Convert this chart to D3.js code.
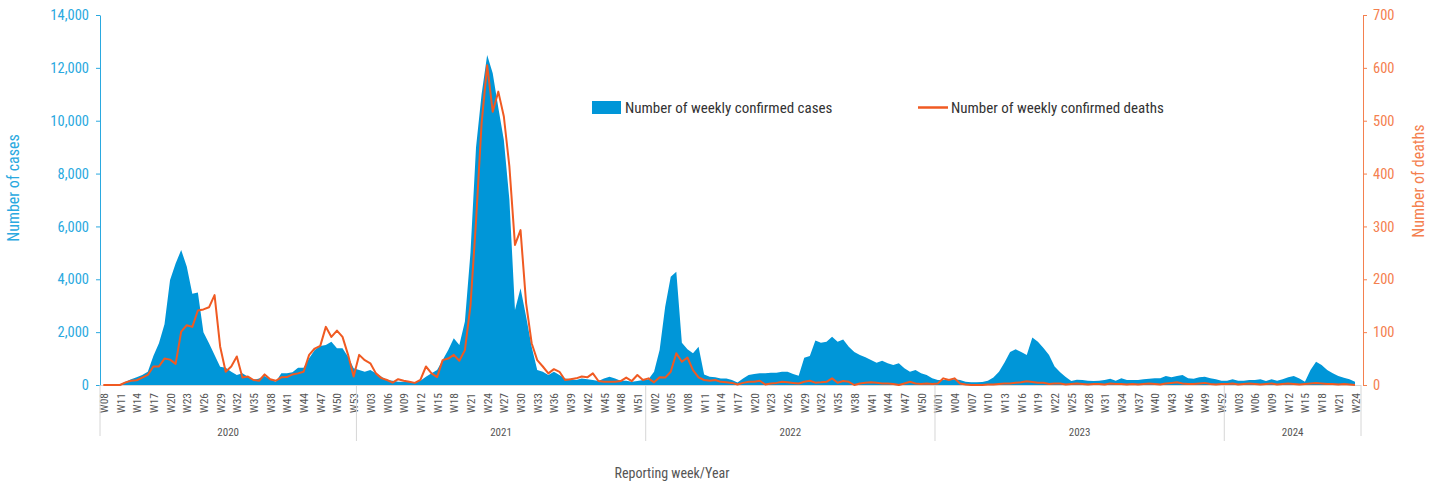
<!DOCTYPE html>
<html>
<head>
<meta charset="utf-8">
<script src="https://cdn.jsdelivr.net/npm/d3@7"></script>
<style>
  html, body { margin: 0; padding: 0; background: #fff; }
  svg { display: block; }
  text { font-family: "Liberation Sans Narrow", "Arial Narrow", "Roboto Condensed", "Liberation Sans", sans-serif; }
</style>
</head>
<body>
<svg id="chart" width="1438" height="486"></svg>
<script>
// ---------------- DATA ----------------
const yearLabels = ["2020", "2021", "2022", "2023", "2024"];
const yearFirstWeek = [8, 1, 1, 1, 1];
const yearLastWeek = [53, 52, 52, 52, 24];

const cases2020 = [0,0,0,30,125,215,290,380,505,1100,1580,2300,3970,4600,5110,4480,3450,3500,2000,1580,1135,690,650,505,380,440,315,190,250,340,215,125,440,440,480,655,655,1010,1325,1475,1510,1640,1390,1390,1070,630];
const cases2021 = [568,505,568,440,315,190,165,125,125,125,100,165,315,440,568,946,1325,1766,1514,2400,5000,9000,11000,12490,11800,10500,9270,7000,2840,3660,2590,1450,568,505,380,505,380,250,215,190,250,215,190,150,250,315,250,165,165,125,150,190];
const cases2022 = [215,505,1324,2964,4100,4288,1600,1350,1200,1450,400,315,290,250,250,190,90,250,380,415,440,440,465,465,505,505,420,350,1030,1100,1680,1600,1640,1830,1640,1720,1450,1250,1135,1047,946,845,921,820,757,820,631,505,568,441,378,252];
const cases2023 = [189,189,215,215,189,126,100,100,113,160,280,500,850,1250,1350,1250,1135,1800,1640,1400,1135,700,480,300,150,200,189,164,150,164,189,240,164,252,189,189,189,215,240,252,252,340,290,340,378,252,240,290,315,252,215,164];
const cases2024 = [164,215,164,164,189,189,215,150,215,164,215,290,340,250,126,570,880,760,568,441,340,277,215,126];

const deaths2020 = [0,0,0,0,5,8,9,14,19,35,35,50,48,40,101,113,110,141,143,147,170,73,25,35,54,14,16,9.5,8,20,11,8,14.5,15,20,22,25,57,69,74,110,91,103,91,57,16];
const deaths2021 = [57,47,41,22,13,9.5,4.4,11,8,6,4,9.5,35,22,15,47,50,57,46,66,150,310,495,605,517,555,508,413,265,293,155,79,47,35,22,30,25,9.5,11,12.6,16,14.5,22,7.5,6,6,6,7.5,14,7.5,19,9.5];
const deaths2022 = [12.6,5,14.5,14,25,60,44,52,28,14.5,9.5,8,9.5,6,5,4,1,4,6,6,8,1,3,4,6,5,4,3,6,8,4.4,5,6,12.6,4.4,7.5,6,0,3,4.4,5,4.4,3,3,2,0,3,6,3,2,3,2];
const deaths2023 = [3,12.6,9.5,12.6,3,1,0,0,0,1,1,2,3,3,4.4,5,7,5.7,4.4,4.4,2,3,3,1,2,3,2,1,2,2,1,3,2,2,1,2,1,2,3,2,1,3,4,5,3,2,2,3,4,2,1,2];
const deaths2024 = [2,3,1,2,3,2,1,2,3,1,2,3,2,1,2,3,4,3,2,2,1,2,1,0];

const caseTicks = [0, 2000, 4000, 6000, 8000, 10000, 12000, 14000];
const deathTicks = [0, 100, 200, 300, 400, 500, 600, 700];

const legendCases = "Number of weekly confirmed cases";
const legendDeaths = "Number of weekly confirmed deaths";
const leftTitle = "Number of cases";
const rightTitle = "Number of deaths";
const bottomTitle = "Reporting week/Year";

// ---------------- BUILD ----------------
const casesByYear = [cases2020, cases2021, cases2022, cases2023, cases2024];
const deathsByYear = [deaths2020, deaths2021, deaths2022, deaths2023, deaths2024];
const rows = [];
yearLabels.forEach((y, yi) => {
  for (let w = yearFirstWeek[yi]; w <= yearLastWeek[yi]; w++) {
    const k = w - yearFirstWeek[yi];
    rows.push({
      key: y + "-" + w,
      year: y,
      week: "W" + String(w).padStart(2, "0"),
      cases: casesByYear[yi][k],
      deaths: deathsByYear[yi][k]
    });
  }
});

const BLUE = "#0096d8";
const AXIS_BLUE = "#2aa9e0";
const ORANGE = "#f05a22";
const AXIS_ORANGE = "#f4804f";
const GRAY = "#555";
const FONT = "'Liberation Sans Narrow','Arial Narrow','Roboto Condensed',sans-serif";

const svg = d3.select("#chart");
const plotTop = 15, plotBottom = 385;
const x = d3.scalePoint().domain(rows.map(d => d.key)).range([103.3, 1355]);
const yL = d3.scaleLinear().domain([0, 14000]).range([plotBottom, plotTop]);
const yR = d3.scaleLinear().domain([0, 700]).range([plotBottom, plotTop]);

// area
const area = d3.area()
  .x(d => x(d.key))
  .y0(yL(0))
  .y1(d => yL(d.cases));
svg.append("path").datum(rows).attr("d", area).attr("fill", BLUE);

// bottom base line
svg.append("line").attr("x1", 100).attr("x2", 1361).attr("y1", plotBottom + 0.5).attr("y2", plotBottom + 0.5)
  .attr("stroke", "#d9d9d9").attr("stroke-width", 1);

// deaths line
const line = d3.line().x(d => x(d.key)).y(d => yR(d.deaths));
svg.append("path").datum(rows).attr("d", line)
  .attr("fill", "none").attr("stroke", ORANGE).attr("stroke-width", 2).attr("stroke-linejoin", "round");

// left axis
const gL = svg.append("g").attr("transform", "translate(100,0)")
  .call(d3.axisLeft(yL).tickValues(caseTicks).tickFormat(d3.format(",")).tickSize(4).tickSizeOuter(0));
gL.select(".domain").attr("stroke", AXIS_BLUE);
gL.selectAll(".tick line").attr("stroke", AXIS_BLUE);
gL.selectAll(".tick text").attr("fill", AXIS_BLUE).attr("font-size", 14.5).attr("x", -11)
  .style("font-family", FONT);

// right axis
const gR = svg.append("g").attr("transform", "translate(1363,0)")
  .call(d3.axisRight(yR).tickValues(deathTicks).tickSize(4).tickSizeOuter(0));
gR.select(".domain").attr("stroke", AXIS_ORANGE);
gR.selectAll(".tick line").attr("stroke", AXIS_ORANGE);
gR.selectAll(".tick text").attr("fill", AXIS_ORANGE).attr("font-size", 14.5).attr("x", 10)
  .style("font-family", FONT);

// bottom week axis
const weekTicks = rows.filter((d, i) => i % 3 === 0).map(d => d.key);
const byKey = new Map(rows.map(d => [d.key, d]));
const gB = svg.append("g").attr("transform", `translate(0,${plotBottom})`)
  .call(d3.axisBottom(x).tickValues(weekTicks).tickFormat(k => byKey.get(k).week).tickSize(0));
gB.select(".domain").remove();
gB.selectAll(".tick text")
  .attr("transform", "rotate(-90)")
  .attr("text-anchor", "end")
  .attr("x", -8).attr("y", 0).attr("dy", "0.35em")
  .attr("fill", GRAY).attr("font-size", 11.5)
  .style("font-family", FONT);

// year separators and labels
const sepX = [100];
yearLabels.forEach((y, yi) => {
  if (yi > 0) {
    const prev = rows.filter(d => d.year === yearLabels[yi - 1]);
    const cur = rows.filter(d => d.year === y);
    sepX.push((x(prev[prev.length - 1].key) + x(cur[0].key)) / 2);
  }
});
sepX.push(1361);
sepX.forEach((sx, i) => {
  svg.append("line").attr("x1", sx).attr("x2", sx).attr("y1", plotBottom).attr("y2", (i === 0 || i === sepX.length - 1) ? 436 : 441)
    .attr("stroke", "#d6d6d6").attr("stroke-width", 1);
});
yearLabels.forEach((y, yi) => {
  svg.append("text").attr("x", (sepX[yi] + sepX[yi + 1]) / 2).attr("y", 436)
    .attr("text-anchor", "middle").attr("font-size", 11).attr("fill", GRAY).text(y);
});

// axis titles
svg.append("text").attr("transform", "translate(19,188) rotate(-90)").attr("text-anchor", "middle")
  .attr("font-size", 16).attr("fill", AXIS_BLUE).text(leftTitle);
svg.append("text").attr("transform", "translate(1424,181) rotate(-90)").attr("text-anchor", "middle")
  .attr("font-size", 16).attr("fill", AXIS_ORANGE).text(rightTitle);
svg.append("text").attr("x", 672).attr("y", 478).attr("text-anchor", "middle")
  .attr("font-size", 14).attr("fill", GRAY).text(bottomTitle);

// legend
svg.append("rect").attr("x", 592).attr("y", 101).attr("width", 29).attr("height", 13).attr("fill", BLUE);
svg.append("text").attr("x", 625).attr("y", 113).attr("font-size", 15).attr("fill", "#333").text(legendCases);
svg.append("line").attr("x1", 918).attr("x2", 948).attr("y1", 107.5).attr("y2", 107.5)
  .attr("stroke", ORANGE).attr("stroke-width", 2.5);
svg.append("text").attr("x", 951).attr("y", 113).attr("font-size", 15).attr("fill", "#333").text(legendDeaths);
</script>
</body>
</html>
